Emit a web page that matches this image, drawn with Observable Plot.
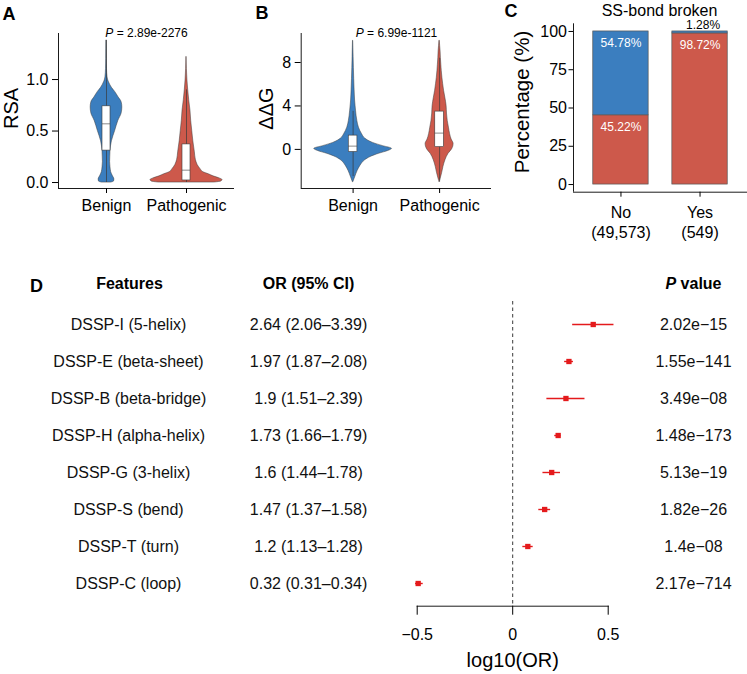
<!DOCTYPE html>
<html><head><meta charset="utf-8">
<script src="https://cdn.jsdelivr.net/npm/d3@7"></script>
<script src="https://cdn.jsdelivr.net/npm/@observablehq/plot@0.6"></script>
<style>
body{margin:0;background:#fff;}
#fig{position:relative;width:747px;height:674px;background:#fff;font-family:"Liberation Sans",Arial,sans-serif;}
#fig svg{position:absolute;overflow:visible;}
</style></head><body><div id="fig"></div>
<script>
// ---------- data ----------
const groups = ["Benign", "Pathogenic"];
const groupColors = ["#3b7ebf", "#cd594b"];

// Panel A: RSA violins (y grid + relative density)
const rsaP = "P = 2.89e-2276";
const rsaBenignY = [0, 0.01, 0.03, 0.06, 0.1, 0.15, 0.2, 0.3, 0.4, 0.5, 0.6, 0.67, 0.73, 0.78, 0.83, 0.88, 0.92, 0.95, 0.98, 1.02, 1.1, 1.2, 1.3, 1.38];
const rsaBenignD = [0.14, 0.21, 0.22, 0.18, 0.13, 0.11, 0.10, 0.11, 0.15, 0.24, 0.33, 0.42, 0.44, 0.42, 0.33, 0.24, 0.15, 0.10, 0.06, 0.03, 0.014, 0.008, 0.006, 0.003];
const rsaPathY = [0, 0.01, 0.025, 0.04, 0.06, 0.08, 0.1, 0.13, 0.17, 0.22, 0.3, 0.4, 0.5, 0.6, 0.7, 0.8, 0.9, 1.0, 1.1, 1.22];
const rsaPathD = [0.78, 0.97, 1.0, 0.92, 0.75, 0.62, 0.47, 0.39, 0.31, 0.26, 0.23, 0.19, 0.16, 0.13, 0.11, 0.075, 0.047, 0.025, 0.011, 0.003];
const rsaQ1 = [0.31, 0.02], rsaMed = [0.57, 0.12], rsaQ3 = [0.74, 0.37], rsaLo = [0, 0], rsaHi = [1.38, 0.9];

// Panel B: ddG violins
const ddgP = "P = 6.99e-1121";
const ddgBenignY = [-3, -2.5, -2, -1.5, -1, -0.7, -0.4, -0.15, 0.05, 0.3, 0.6, 1, 1.4, 2, 2.6, 3.5, 4.5, 5.5, 6.5, 7.5, 8.5, 9.3, 10];
const ddgBenignD = [0.008, 0.06, 0.115, 0.19, 0.31, 0.45, 0.67, 0.9, 1.0, 0.77, 0.51, 0.31, 0.23, 0.15, 0.11, 0.077, 0.051, 0.038, 0.028, 0.02, 0.013, 0.008, 0.003];
const ddgPathY = [-3, -2.8, -2.2, -1.6, -1, -0.4, 0, 0.5, 0.9, 1.4, 2, 2.6, 3.3, 4, 4.7, 5.4, 6, 6.6, 7.2, 7.8, 8.4, 9, 9.5, 10];
const ddgPathD = [0.003, 0.02, 0.064, 0.1, 0.15, 0.23, 0.32, 0.36, 0.31, 0.27, 0.24, 0.21, 0.19, 0.18, 0.15, 0.115, 0.092, 0.072, 0.056, 0.044, 0.033, 0.026, 0.015, 0.005];
const ddgQ1 = [-0.24, 0.21], ddgMed = [0.3, 1.5], ddgQ3 = [1.27, 3.48], ddgLo = [-2.5, -3], ddgHi = [3.5, 8.4];

// Panel C: SS-bond broken
const ssTitle = "SS-bond broken";
const ssCats = ["No", "Yes"];
const ssN = [49573, 549];
const ssBenignPct = [54.78, 1.28];
const ssPathPct = [45.22, 98.72];

// Panel D: forest plot
const features = ["DSSP-I (5-helix)", "DSSP-E (beta-sheet)", "DSSP-B (beta-bridge)", "DSSP-H (alpha-helix)", "DSSP-G (3-helix)", "DSSP-S (bend)", "DSSP-T (turn)", "DSSP-C (loop)"];
const orVal = [2.64, 1.97, 1.9, 1.73, 1.6, 1.47, 1.2, 0.32];
const orLo = [2.06, 1.87, 1.51, 1.66, 1.44, 1.37, 1.13, 0.31];
const orHi = [3.39, 2.08, 2.39, 1.79, 1.78, 1.58, 1.28, 0.34];
const pVals = ["2.02e\u221215", "1.55e\u2212141", "3.49e\u221208", "1.48e\u2212173", "5.13e\u221219", "1.82e\u221226", "1.4e\u221208", "2.17e\u2212714"];

// ---------- helpers ----------
const FONT = '"Liberation Sans", Arial, Helvetica, sans-serif';
const style = {fontFamily: FONT, fontSize: "16px", color: "black", background: "transparent", overflow: "visible"};
const fig = document.getElementById("fig");
function place(svg, left, top) { svg.style.left = left + "px"; svg.style.top = top + "px"; fig.appendChild(svg); }
// text at a position in the SVG's own pixel space (layout, not data)
function absText(m, str, X, Y, opts = {}) {
  return Plot.text([str], {text: d => d, frameAnchor: "top-left", dx: X - m.left, dy: Y - m.top,
    textAnchor: "middle", lineAnchor: "middle", ...opts});
}
function violinRows(ys, ds, g) { return ys.map((y, k) => ({group: groups[g], i: g + 1, y, d: ds[k]})); }
function boxRows(q1, med, q3, lo, hi) { return groups.map((g, k) => ({group: g, i: k + 1, q1: q1[k], med: med[k], q3: q3[k], lo: lo[k], hi: hi[k]})); }

function violinPanel({m, w, h, ydom, rows, boxes, yticks, yfmt, ylab, ylabX, letter, letterX, letterY, ptext, pX}) {
  return Plot.plot({
    width: w, height: h, marginTop: m.top, marginRight: m.right, marginBottom: m.bottom, marginLeft: m.left,
    x: {domain: [0.4, 2.6]}, y: {domain: ydom},
    color: {domain: groups, range: groupColors},
    style,
    marks: [
      Plot.areaX(rows, {y: "y", x1: r => r.i - 0.45 * r.d, x2: r => r.i + 0.45 * r.d, fill: "group", z: "group", stroke: "#3a3a3a", strokeWidth: 0.5, curve: "monotone-y"}),
      Plot.ruleX(boxes, {x: "i", y1: "lo", y2: "hi", stroke: "#3a3a3a", strokeWidth: 0.7}),
      Plot.rect(boxes, {x1: b => b.i - 0.05, x2: b => b.i + 0.05, y1: "q1", y2: "q3", fill: "white", stroke: "#3a3a3a", strokeWidth: 0.6}),
      Plot.ruleY(boxes, {y: "med", x1: b => b.i - 0.05, x2: b => b.i + 0.05, stroke: "#3a3a3a", strokeWidth: 0.6}),
      Plot.ruleX([0.4], {stroke: "black", strokeWidth: 0.9}),
      Plot.ruleY([ydom[0]], {stroke: "black", strokeWidth: 0.9}),
      Plot.axisY({ticks: yticks, tickFormat: yfmt, tickSize: 6, tickPadding: 4, fontSize: 16, label: null}),
      Plot.axisX({ticks: [1, 2], tickFormat: i => groups[i - 1], tickSize: 5, tickPadding: 6.5, fontSize: 16, label: null}),
      absText(m, ylab, ylabX, 108, {rotate: -90, fontSize: 20}),
      absText(m, letter, letterX, letterY, {fontWeight: "bold", fontSize: 18}),
      absText(m, ptext, pX, 32.5, {fontSize: 12})
    ]
  });
}

// ---------- Panel A ----------
const mA = {top: 33, right: 6, bottom: 52, left: 58};
const rsaRows = violinRows(rsaBenignY, rsaBenignD, 0).concat(violinRows(rsaPathY, rsaPathD, 1));
place(violinPanel({m: mA, w: 240, h: 240, ydom: [-0.058, 1.447], rows: rsaRows,
  boxes: boxRows(rsaQ1, rsaMed, rsaQ3, rsaLo, rsaHi), yticks: [0, 0.5, 1], yfmt: d3.format(".1f"),
  ylab: "RSA", ylabX: 11, letter: "A", letterX: 8.5, letterY: 13.5, ptext: rsaP, pX: 146}), 0, 0);

// ---------- Panel B ----------
const mB = {top: 33, right: 4, bottom: 52, left: 60.7};
const ddgRows = violinRows(ddgBenignY, ddgBenignD, 0).concat(violinRows(ddgPathY, ddgPathD, 1));
place(violinPanel({m: mB, w: 255, h: 240, ydom: [-3.6, 10.67], rows: ddgRows,
  boxes: boxRows(ddgQ1, ddgMed, ddgQ3, ddgLo, ddgHi), yticks: [0, 4, 8], yfmt: d3.format("d"),
  ylab: "\u0394\u0394G", ylabX: 25.7, letter: "B", letterX: 21.5, letterY: 12.5, ptext: ddgP, pX: 156}), 240, 0);

// ---------- Panel C ----------
const mC = {top: 23.3, right: 0, bottom: 48.3, left: 78};
const ssRows = [];
ssCats.forEach((c, k) => {
  ssRows.push({cat: c, i: k + 1, group: "Pathogenic", pct: ssPathPct[k], y1: 0, y2: ssPathPct[k]});
  ssRows.push({cat: c, i: k + 1, group: "Benign", pct: ssBenignPct[k], y1: ssPathPct[k], y2: ssPathPct[k] + ssBenignPct[k]});
});
place(Plot.plot({
  width: 252, height: 240, marginTop: mC.top, marginRight: mC.right, marginBottom: mC.bottom, marginLeft: mC.left,
  x: {domain: [0.4, 2.6]}, y: {domain: [-5, 105]},
  color: {domain: groups, range: groupColors},
  style,
  marks: [
    Plot.rectY(ssRows, {x1: r => r.i - 0.35, x2: r => r.i + 0.35, y1: "y1", y2: "y2", fill: "group", stroke: "#555", strokeWidth: 0.7}),
    Plot.text(ssRows.filter(r => r.pct >= 5), {x: "i", y: "y2", text: r => r.pct.toFixed(2) + "%", fill: "white", fontSize: 12, dy: 11.5}),
    Plot.text(ssRows.filter(r => r.pct < 5), {x: "i", y: "y2", text: r => r.pct.toFixed(2) + "%", fill: "black", fontSize: 12, dy: -6.5, dx: 3}),
    Plot.ruleX([0.4], {stroke: "black", strokeWidth: 0.9}),
    Plot.ruleY([-5], {stroke: "black", strokeWidth: 0.9}),
    Plot.axisY({ticks: [0, 25, 50, 75, 100], tickFormat: d3.format("d"), tickSize: 4.5, tickPadding: 2, fontSize: 16, label: null}),
    Plot.axisX({ticks: [1, 2], tickFormat: i => `${ssCats[i - 1]}\n(${ssN[i - 1].toLocaleString("en-US")})`, tickSize: 5, tickPadding: 6.5, fontSize: 16, lineHeight: 1.25, label: null}),
    absText(mC, "Percentage (%)", 27, 101.5, {rotate: -90, fontSize: 20.5}),
    absText(mC, "C", 15.5, 11, {fontWeight: "bold", fontSize: 18}),
    absText(mC, ssTitle, 164, 10, {fontSize: 16})
  ]
}), 495, 0);

// ---------- Panel D ----------
const mD = {top: 31, right: 139.3, bottom: 68.3, left: 416.7};
const rows = features.map((f, k) => ({feature: f, or: orVal[k], lo: orLo[k], hi: orHi[k],
  orText: `${orVal[k]} (${orLo[k]}\u2013${orHi[k]})`, p: pVals[k]}));
const colFeat = 128, colOR = 308, colP = 693;
const red = "#e41a1c";
const tcol = {frameAnchor: "left", textAnchor: "middle", lineAnchor: "middle", fontSize: 16, fill: "#111"};
place(Plot.plot({
  width: 747, height: 404, marginTop: mD.top, marginRight: mD.right, marginBottom: mD.bottom, marginLeft: mD.left,
  x: {domain: [-0.5, 0.5]},
  y: {type: "point", domain: features, padding: 0.52, axis: null},
  style,
  marks: [
    Plot.ruleX([0], {strokeDasharray: "3.5,3", stroke: "#222", strokeWidth: 0.9}),
    Plot.ruleY(rows, {y: "feature", x1: r => Math.log10(r.lo), x2: r => Math.log10(r.hi), stroke: red, strokeWidth: 1.4}),
    Plot.dot(rows, {y: "feature", x: r => Math.log10(r.or), symbol: "square", fill: red, r: 3}),
    Plot.text(rows, {y: "feature", text: "feature", dx: colFeat - mD.left, ...tcol}),
    Plot.text(rows, {y: "feature", text: "orText", dx: colOR - mD.left, ...tcol}),
    Plot.text(rows, {y: "feature", text: "p", dx: colP - mD.left, ...tcol}),
    absText(mD, "Features", 129, 13, {fontWeight: "bold", fontSize: 16}),
    absText(mD, "OR (95% CI)", colOR, 13, {fontWeight: "bold", fontSize: 16}),
    absText(mD, "P value", colP, 13, {fontWeight: "bold", fontSize: 16}),
    absText(mD, "D", 36, 15.5, {fontWeight: "bold", fontSize: 18}),
    Plot.axisX({ticks: [-0.5, 0, 0.5], tickFormat: d3.format(""), tickSize: 9, tickPadding: 13, fontSize: 16, label: null}),
    Plot.text(["log10(OR)"], {text: d => d, frameAnchor: "bottom", lineAnchor: "middle", dy: 54.3, fontSize: 20}),
    Plot.frame({anchor: "bottom", stroke: "black", strokeWidth: 0.9})
  ]
}), 0, 270);

// italic "P" in P-value texts
fig.querySelectorAll("text").forEach(t => {
  if (t.children.length === 0) {
    const s = t.textContent;
    if (/^P (=|value)/.test(s)) {
      t.textContent = "";
      const ns = "http://www.w3.org/2000/svg";
      const ts = document.createElementNS(ns, "tspan");
      ts.setAttribute("font-style", "italic");
      ts.textContent = "P";
      t.appendChild(ts);
      t.appendChild(document.createTextNode(s.slice(1)));
    }
  }
});
</script></body></html>
